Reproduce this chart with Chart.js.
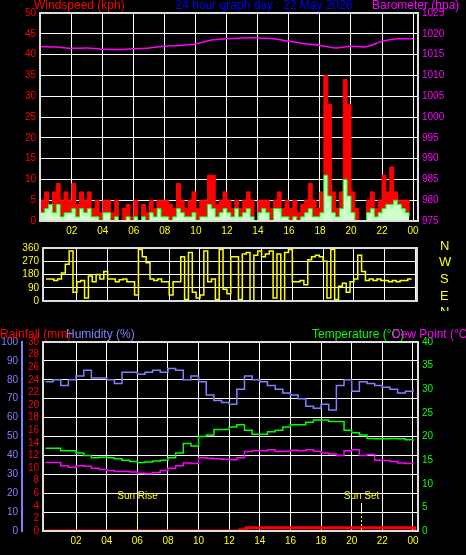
<!DOCTYPE html>
<html><head><meta charset="utf-8">
<script src="https://cdn.jsdelivr.net/npm/chart.js@4"></script>
<style>
body{margin:0;background:#000;width:466px;height:555px;overflow:hidden;position:relative}
.c{position:absolute;left:0}
</style></head><body>
<div class="c" style="top:0;width:466px;height:245px"><canvas id="c1"></canvas></div>
<div class="c" style="top:238px;width:466px;height:73px"><canvas id="c2"></canvas></div>
<div class="c" style="top:318px;width:466px;height:237px"><canvas id="c3"></canvas></div>
<script>
// ---- data ----
const windGust = [5,7,3,7,9,5,7,5, 9,4,7,5,7,3,5,2, 5,5,2,5,0,3,4,1, 5,0,4,2,5,3,5,5,
  5,4,3,9,5,3,5,7, 3,5,5,11,11,4,5,7, 5,3,5,3,5,7,5,0, 5,5,5,3,5,7,3,5,
  3,5,2,4,5,9,5,3, 7,35,28,7,3,7,34,28, 7,3,0,0,5,7,3,5, 11,7,13,7,5,5,5,2];
const windAvg = [2,3,4,2,4,1,2,2, 3,1,3,2,3,1,1,0, 2,2,0,1,0,0,1,0, 1,0,1,0,2,1,3,1,
  1,0,1,3,2,1,1,2, 0,1,1,4,3,1,2,3, 2,1,3,1,2,3,1,0, 2,3,2,0,3,3,1,1,
  0,1,0,1,2,3,1,1, 2,11,6,2,1,3,10,6, 2,0,0,0,2,3,1,2, 3,4,4,5,4,3,2,1];
const barometer = [1016.9,1016.8,1016.5,1016.6,1016.3,1016.2,1016.4,1016.6,1017,1017.2,1017.6,1018.5,
  1018.8,1019,1019,1018.8,1018.2,1017.6,1017.2,1016.6,1017,1016.9,1018.2,1018.8,1018.8];
const windDir = [150,150,140,150,190,250,340,60, 130,140,20,170,130,180,150,200,
  150,150,130,145,150,130,130,40, 350,300,260,150,140,150,130,130,
  40,130,130,300,10,330,60,20, 40,340,130,150,10,350,80,50,
  300,300,10,320,330,0,310,340, 300,320,340,20,320,0,330,350,
  130,130,140,110,280,300,310,300, 270,20,350,10,100,120,60,130,
  150,310,200,140,150,140,150,140, 140,130,140,130,140,140,150,150];
const humidity = [79,80,77,80,82,85,81,81,80,78, 84,84,83,84,85,84,86,85,80,82,
  79,72,69,68,67,75,82,80,79,77, 75,73,72,70,66,65,67,64,77,80, 74,79,78,77,76,75,73,74,75];
const temperature = [17.5,17.5,17,17,16.5,16,15.5,15.6,15.5,15.3, 15,14.7,14.5,14.6,14.8,15,15.5,16.5,18.5,18,
  20,20.3,21.5,21.5,22,22.5,21.3,20.5,20.5,21, 21.3,22,22.5,22.5,23,23.5,23.5,23.2,23.2,21.3,
  20.8,20.3,19.6,19.5,19.5,19.6,19.5,19.3,19];
const dewPoint = [14.5,14.5,13.8,13.5,13.8,13.7,13.3,13,12.8,12.6, 12.6,12.5,12.2,12.1,12.4,12.8,13.3,13.8,14.4,14.3,
  15.5,15.4,15.3,15.2,15.1,15.5,16.8,17,17,17.2, 16.8,16.9,17.1,17,17.2,16.9,16.5,16.3,16,17,
  17.2,16,16.2,15,14.9,14.7,14.4,14.3,14.4];
const rainHours = [0,12.7,13.1,24,24.1];
const rainfall = [0,0.2,0.5,0.5,0];
const hourTicks = [2,4,6,8,10,12,14,16,18,20,22,24];
const sunEvents = [{h:6,label:'Sun Rise'},{h:20.6,label:'Sun Set'}];

// ---- helpers ----
const F = 'Liberation Sans';
const xy = (arr, step) => arr.map((v,i)=>({x:i*step,y:v}));
const hourLbl = v => String(v%24).padStart(2,'0');
function xScale(min,max,show){
  return {type:'linear',min,max,display:true,
    afterBuildTicks:s=>{s.ticks=hourTicks.map(v=>({value:v}));},
    afterFit:s=>{s.height=show?24:0},
    ticks:{display:show,autoSkip:false,color:'#ffff00',font:{family:F,size:10},callback:hourLbl,maxRotation:0,padding:4},
    grid:{color:'#fff',borderDash:[1,4],drawTicks:false,display:true},
    border:{display:false}};
}
function yScale(pos,min,max,step,color,w,grid,show=true){
  return {type:'linear',position:pos,min,max,afterFit:s=>{s.width=w},
    afterBuildTicks:s=>{const t=[];for(let v=min;v<=max+1e-9;v+=step)t.push({value:v});s.ticks=t;},
    ticks:{display:show,autoSkip:false,color,font:{family:F,size:10},padding:4,callback:v=>String(v)},
    grid:{display:grid,color:'#fff',borderDash:[1,4],drawTicks:false},
    border:{display:false}};
}
const frame = {id:'frame',afterDatasetsDraw(c){
  const {ctx,chartArea:ca}=c; ctx.save(); ctx.strokeStyle='#ddd'; ctx.lineWidth=2;
  ctx.strokeRect(ca.left,ca.top,ca.right-ca.left,ca.bottom-ca.top); ctx.restore();}};
function texts(list){return {id:'txt'+Math.random(),afterDraw(c){
  const ctx=c.ctx; ctx.save(); ctx.textBaseline='middle';
  list.forEach(t=>{ctx.font=(t.s||12)+'px '+F; ctx.fillStyle=t.c; ctx.textAlign=t.a||'left'; ctx.fillText(t.t,t.x,t.y);});
  ctx.restore();}};}
const base = {responsive:true,maintainAspectRatio:false,animation:false,
  plugins:{legend:{display:false},tooltip:{enabled:false}},elements:{point:{radius:0}}};
Chart.defaults.font.family=F;

// ---- chart 1: wind & barometer ----
new Chart(document.getElementById('c1'),{type:'line',
  data:{datasets:[
    {data:xy(windAvg,0.25),yAxisID:'y',stepped:true,borderColor:'#00ff00',borderWidth:1,backgroundColor:'#ccffcc',fill:'origin',order:1},
    {data:xy(windGust,0.25),yAxisID:'y',stepped:true,borderColor:'#ff0000',borderWidth:1,backgroundColor:'#ff0000',fill:'origin',order:2},
    {data:xy(barometer,1),yAxisID:'y2',borderColor:'#ff00ff',borderWidth:1.5,tension:0.3,fill:false,order:0}]},
  options:{...base,layout:{padding:{top:13,bottom:0}},
    scales:{x:xScale(-0.05,24.32,true),
      y:yScale('left',0,50,5,'#ff0000',40,true),
      y2:yScale('right',975,1025,5,'#ff00ff',48,false)}},
  plugins:[frame,texts([
    {t:'Windspeed (kph)',x:34,y:6,c:'#ff0000',s:12},
    {t:'24 hour graph day : 22 May 2026',x:264,y:6,c:'#0000ff',s:12,a:'center'},
    {t:'Barometer (hpa)',x:372,y:6,c:'#ff00ff',s:12}])]});

// ---- chart 2: direction ----
new Chart(document.getElementById('c2'),{type:'line',
  data:{datasets:[{data:xy(windDir,0.25),stepped:true,borderColor:'#ffff00',borderWidth:1.5,fill:false}]},
  options:{...base,layout:{padding:{top:6,bottom:3}},
    scales:{x:xScale(-0.2,24.1,false),
      y:yScale('left',0,360,90,'#ffff00',43,true),
      y2:yScale('right',0,360,90,'#000',49,false,false)}},
  plugins:[frame,texts([
    {t:'N',x:440,y:8,c:'#ffff00',s:13},{t:'W',x:439,y:24,c:'#ffff00',s:13},
    {t:'S',x:440,y:41,c:'#ffff00',s:13},{t:'E',x:440,y:58,c:'#ffff00',s:13},{t:'N',x:440,y:74,c:'#ffff00',s:13}])]});

// ---- chart 3: temp / humidity / rain ----
const sun = {id:'sun',afterDatasetsDraw(c){
  const ctx=c.ctx,xs=c.scales.x,yb=c.chartArea.bottom; ctx.save();
  sunEvents.forEach(e=>{const px=Math.round(xs.getPixelForValue(e.h))+0.5;
    ctx.lineWidth=1;
    ctx.strokeStyle='#fff';ctx.setLineDash([]);ctx.beginPath();ctx.moveTo(px,185);ctx.lineTo(px,194);ctx.stroke();
    ctx.strokeStyle='#ffff00';ctx.setLineDash([2,2]);ctx.beginPath();ctx.moveTo(px,194);ctx.lineTo(px,yb);ctx.stroke();
    ctx.setLineDash([]);ctx.fillStyle='#ffff00';ctx.font='10px '+F;ctx.textAlign='center';ctx.textBaseline='middle';
    ctx.fillText(e.label,px,178);});
  ctx.restore();}};
new Chart(document.getElementById('c3'),{type:'line',
  data:{datasets:[
    {data:xy(humidity,0.5),yAxisID:'yh',stepped:true,borderColor:'#8080ff',borderWidth:1.5,fill:false},
    {data:xy(temperature,0.5),yAxisID:'yt',stepped:true,borderColor:'#00ff00',borderWidth:1.5,fill:false},
    {data:xy(dewPoint,0.5),yAxisID:'yt',stepped:true,borderColor:'#ff00ff',borderWidth:1.5,fill:false},
    {data:rainHours.map((h,i)=>({x:h,y:rainfall[i]})),yAxisID:'yr',stepped:true,borderColor:'#ff0000',borderWidth:3,fill:false}]},
  options:{...base,layout:{padding:{top:24,bottom:0}},
    scales:{x:xScale(-0.16,24.33,true),
      yr:{...yScale('left',0,30,2,'#ff0000',21,false),border:{display:true,color:'#ff0000',width:2}},
      yh:{...yScale('left',0,100,10,'#8080ff',22,true),border:{display:true,color:'#8080ff',width:2}},
      yt:yScale('right',0,40,5,'#00ff00',48,false)}},
  plugins:[frame,sun,texts([
    {t:'Rainfall (mm)',x:0,y:17,c:'#ff0000',s:12},
    {t:'Humidity (%)',x:66,y:17,c:'#8080ff',s:12},
    {t:'Temperature (°C)',x:312,y:17,c:'#00ff00',s:12},
    {t:'Dew Point (°C)',x:392,y:17,c:'#ff00ff',s:12}])]});
</script></body></html>
